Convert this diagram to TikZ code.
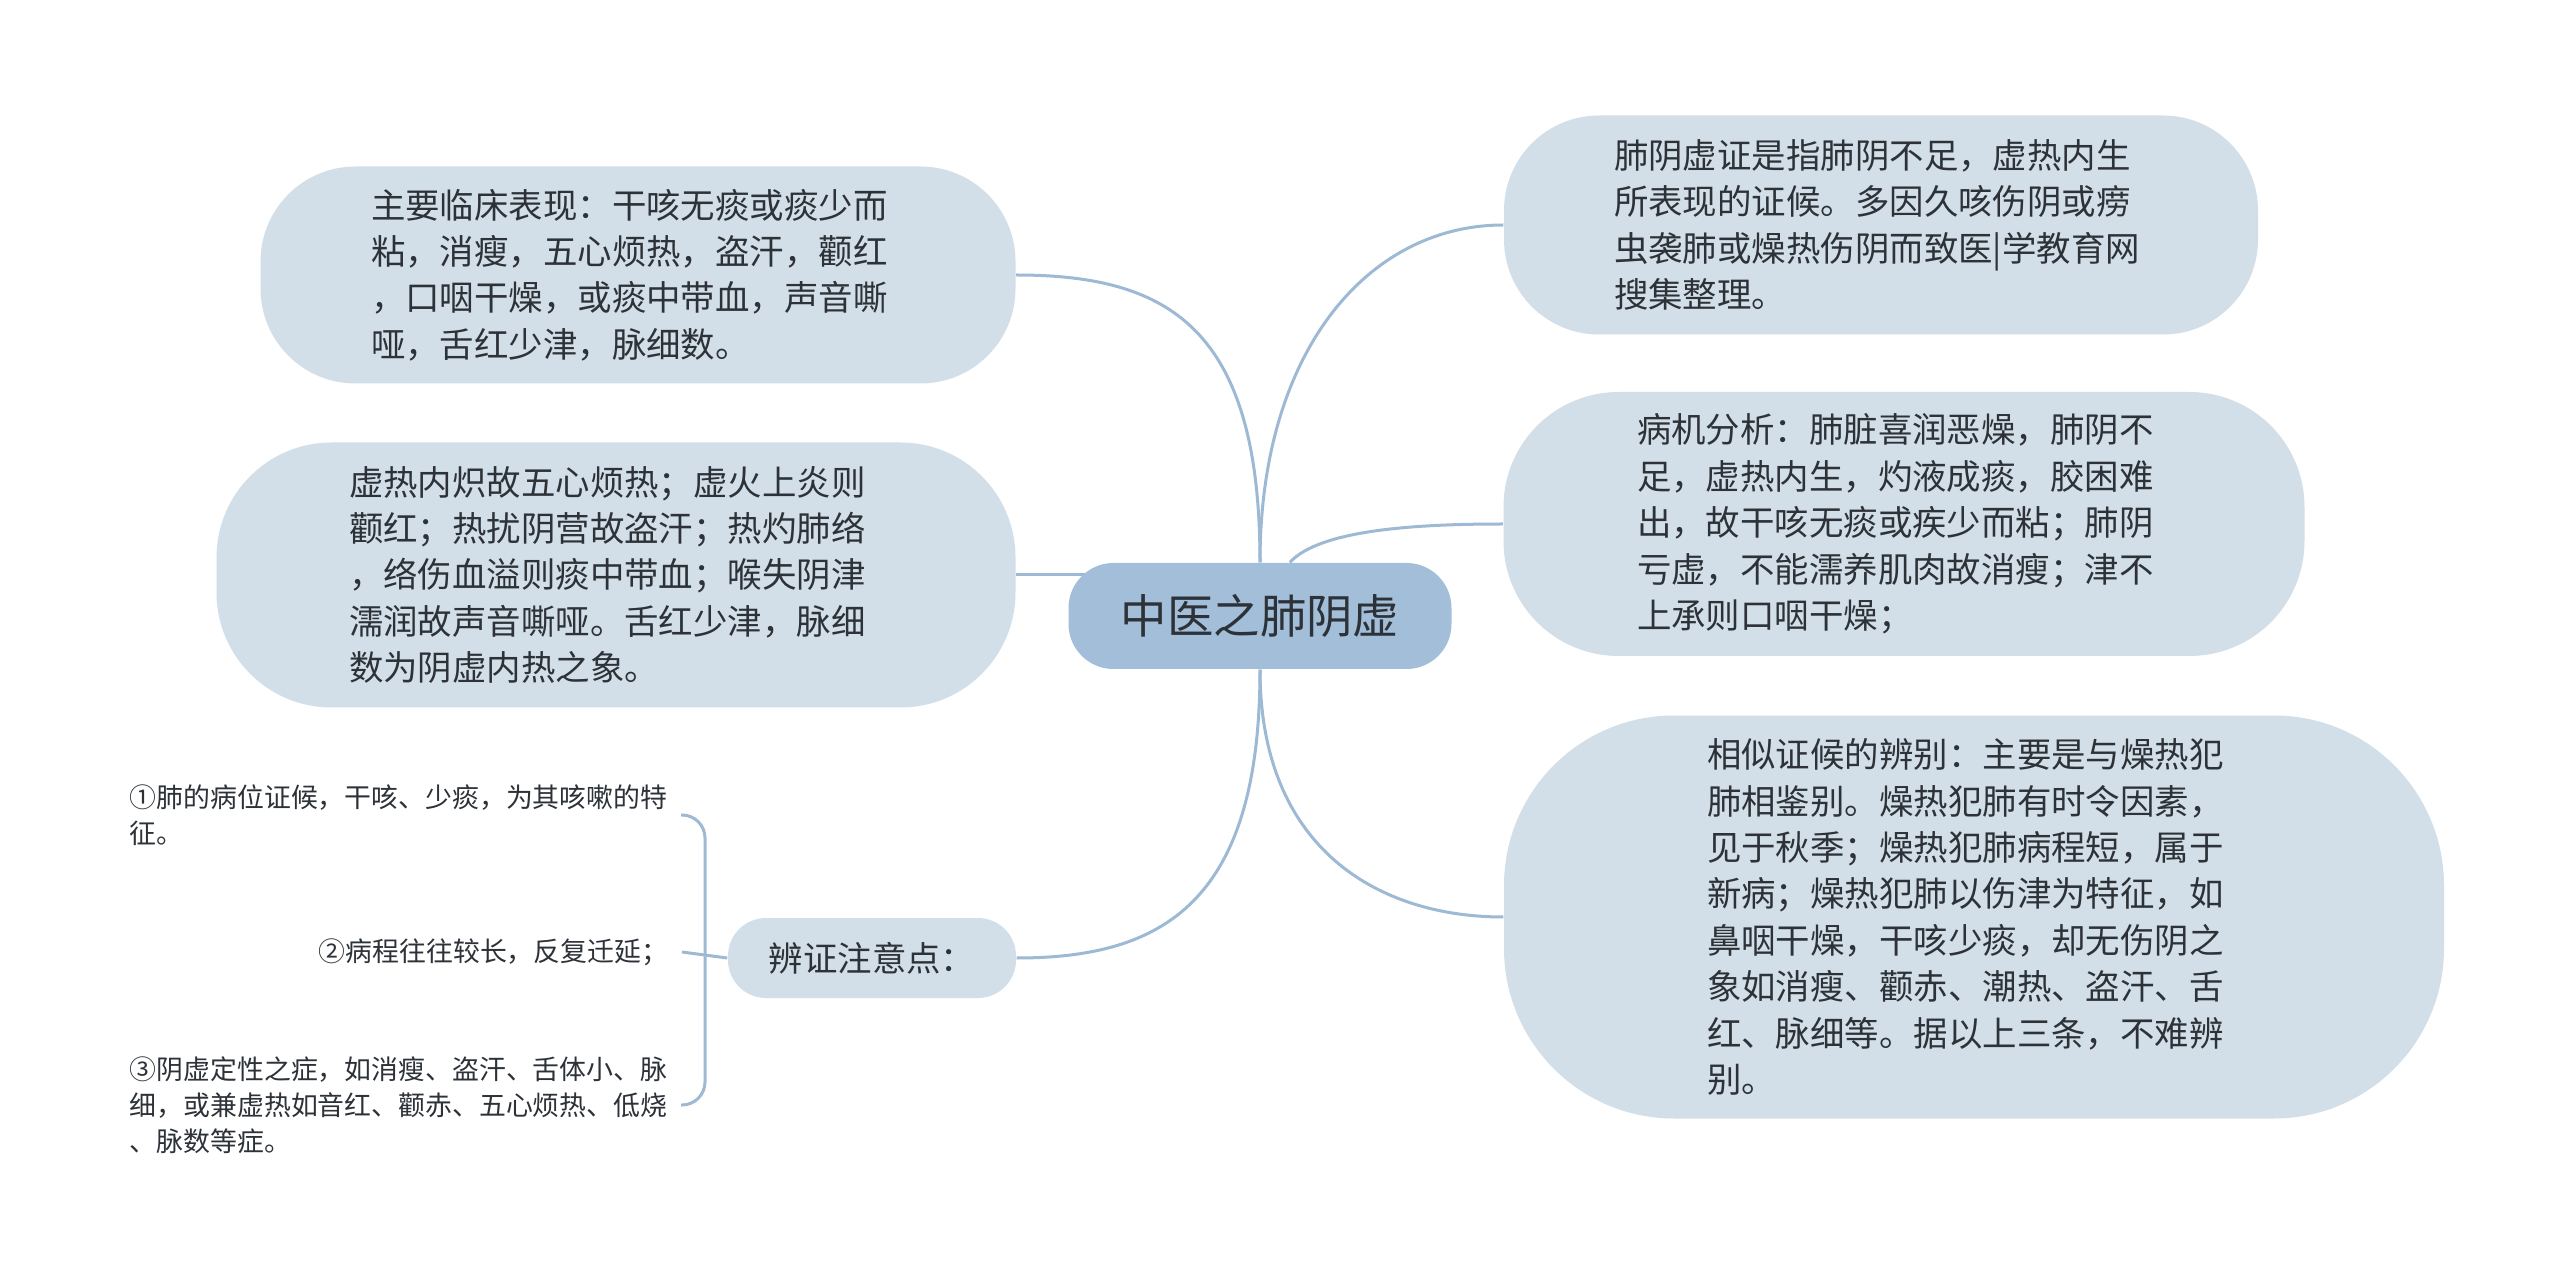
\documentclass[tikz,border=0pt]{standalone}
\usepackage{fontspec}
\setmainfont{Noto Sans CJK SC}
\usepackage{xcolor}
\usepackage{tikz}
\usetikzlibrary{backgrounds}
\definecolor{rootfill}{RGB}{162,190,217}
\definecolor{topicfill}{RGB}{211,223,232}
\definecolor{linkblue}{RGB}{157,185,212}
\definecolor{inkdark}{RGB}{45,50,56}
\tikzset{
  rootnode/.style={rectangle, fill=rootfill, rounded corners=4.5mm,
    minimum width=38.3mm, minimum height=10.6mm, inner sep=0pt,
    text=inkdark, font=\fontsize{13.2}{15}\selectfont},
  topic/.style={rectangle, fill=topicfill, inner sep=0pt, align=left,
    text=inkdark, font=\fontsize{9.8}{13.2}\selectfont},
  bodytopic/.style={topic, text width=53.4mm},
  leaf/.style={inner sep=0pt, align=left,
    text=inkdark, font=\fontsize{7.65}{10.2}\selectfont},
  link/.style={draw=linkblue, line width=0.3mm}
}

\begin{document}
\begin{tikzpicture}[x=0.1mm, y=-0.1mm]
  \useasboundingbox (0,0) rectangle (2560,1284);

  \node[rootnode] (root) at (1260,616) {中医之肺阴虚};

  \node[bodytopic, rounded corners=9.5mm, minimum width=75.5mm, minimum height=21.7mm] (clinic) at (638,275)
    {主要临床表现：干咳无痰或痰少而\\粘，消瘦，五心烦热，盗汗，颧红\\，口咽干燥，或痰中带血，声音嘶\\哑，舌红少津，脉细数。};
  \node[bodytopic, rounded corners=11.5mm, minimum width=79.9mm, minimum height=26.5mm] (cause) at (616,575)
    {虚热内炽故五心烦热；虚火上炎则\\颧红；热扰阴营故盗汗；热灼肺络\\，络伤血溢则痰中带血；喉失阴津\\濡润故声音嘶哑。舌红少津，脉细\\数为阴虚内热之象。};
  \node[topic, rounded corners=3.8mm, minimum width=28.8mm, minimum height=8mm] (notes) at (872,958) {辨证注意点：};

  \node[bodytopic, rounded corners=9.5mm, minimum width=75.4mm, minimum height=21.9mm] (define) at (1881,225)
    {肺阴虚证是指肺阴不足，虚热内生\\所表现的证候。多因久咳伤阴或痨\\虫袭肺或燥热伤阴而致医|学教育网\\搜集整理。};
  \node[bodytopic, rounded corners=11.5mm, minimum width=80.1mm, minimum height=26.4mm] (mech) at (1904,524)
    {病机分析：肺脏喜润恶燥，肺阴不\\足，虚热内生，灼液成痰，胶困难\\出，故干咳无痰或疾少而粘；肺阴\\亏虚，不能濡养肌肉故消瘦；津不\\上承则口咽干燥；};
  \node[bodytopic, rounded corners=17mm, minimum width=94mm, minimum height=40.3mm] (differ) at (1974,917)
    {相似证候的辨别：主要是与燥热犯\\肺相鉴别。燥热犯肺有时令因素，\\见于秋季；燥热犯肺病程短，属于\\新病；燥热犯肺以伤津为特征，如\\鼻咽干燥，干咳少痰，却无伤阴之\\象如消瘦、颧赤、潮热、盗汗、舌\\红、脉细等。据以上三条，不难辨\\别。};

  % notes leaves
  \node[leaf, anchor=west] (pt1) at (129,815) {①肺的病位证候，干咳、少痰，为其咳嗽的特\\征。};
  \node[leaf, anchor=east] (pt2) at (669,952) {②病程往往较长，反复迁延；};
  \node[leaf, anchor=west] (pt3) at (129,1105) {③阴虚定性之症，如消瘦、盗汗、舌体小、脉\\细，或兼虚热如音红、颧赤、五心烦热、低烧\\、脉数等症。};
  \coordinate (spine) at (705,958);

  \begin{scope}[on background layer]
    \fill[white] (0,0) rectangle (2560,1284);
    \draw[link] (root.north) .. controls +(0,-233) and +(154,0) .. (clinic.east);
    \draw[link] (cause.east) -- (root.center |- cause.east);
    \draw[link] (root.south) .. controls +(0,233) and +(146,0) .. (notes.east);
    \draw[link] (root.north) .. controls +(0,-213) and +(-134,0) .. (define.west);
    \draw[link] ([xshift=3mm]root.north) .. controls +(30,-33) and +(-84,0) .. (mech.west);
    \draw[link] (root.south) .. controls +(0,180) and +(-124,0) .. (differ.west);
  \end{scope}
  \draw[link, rounded corners=2.3mm] ([xshift=1.3mm]pt1.east) -| (spine) |- ([xshift=1.3mm]pt3.east);
  \draw[link] ([xshift=1.3mm]pt2.east) -- (notes.west);
\end{tikzpicture}
\end{document}
